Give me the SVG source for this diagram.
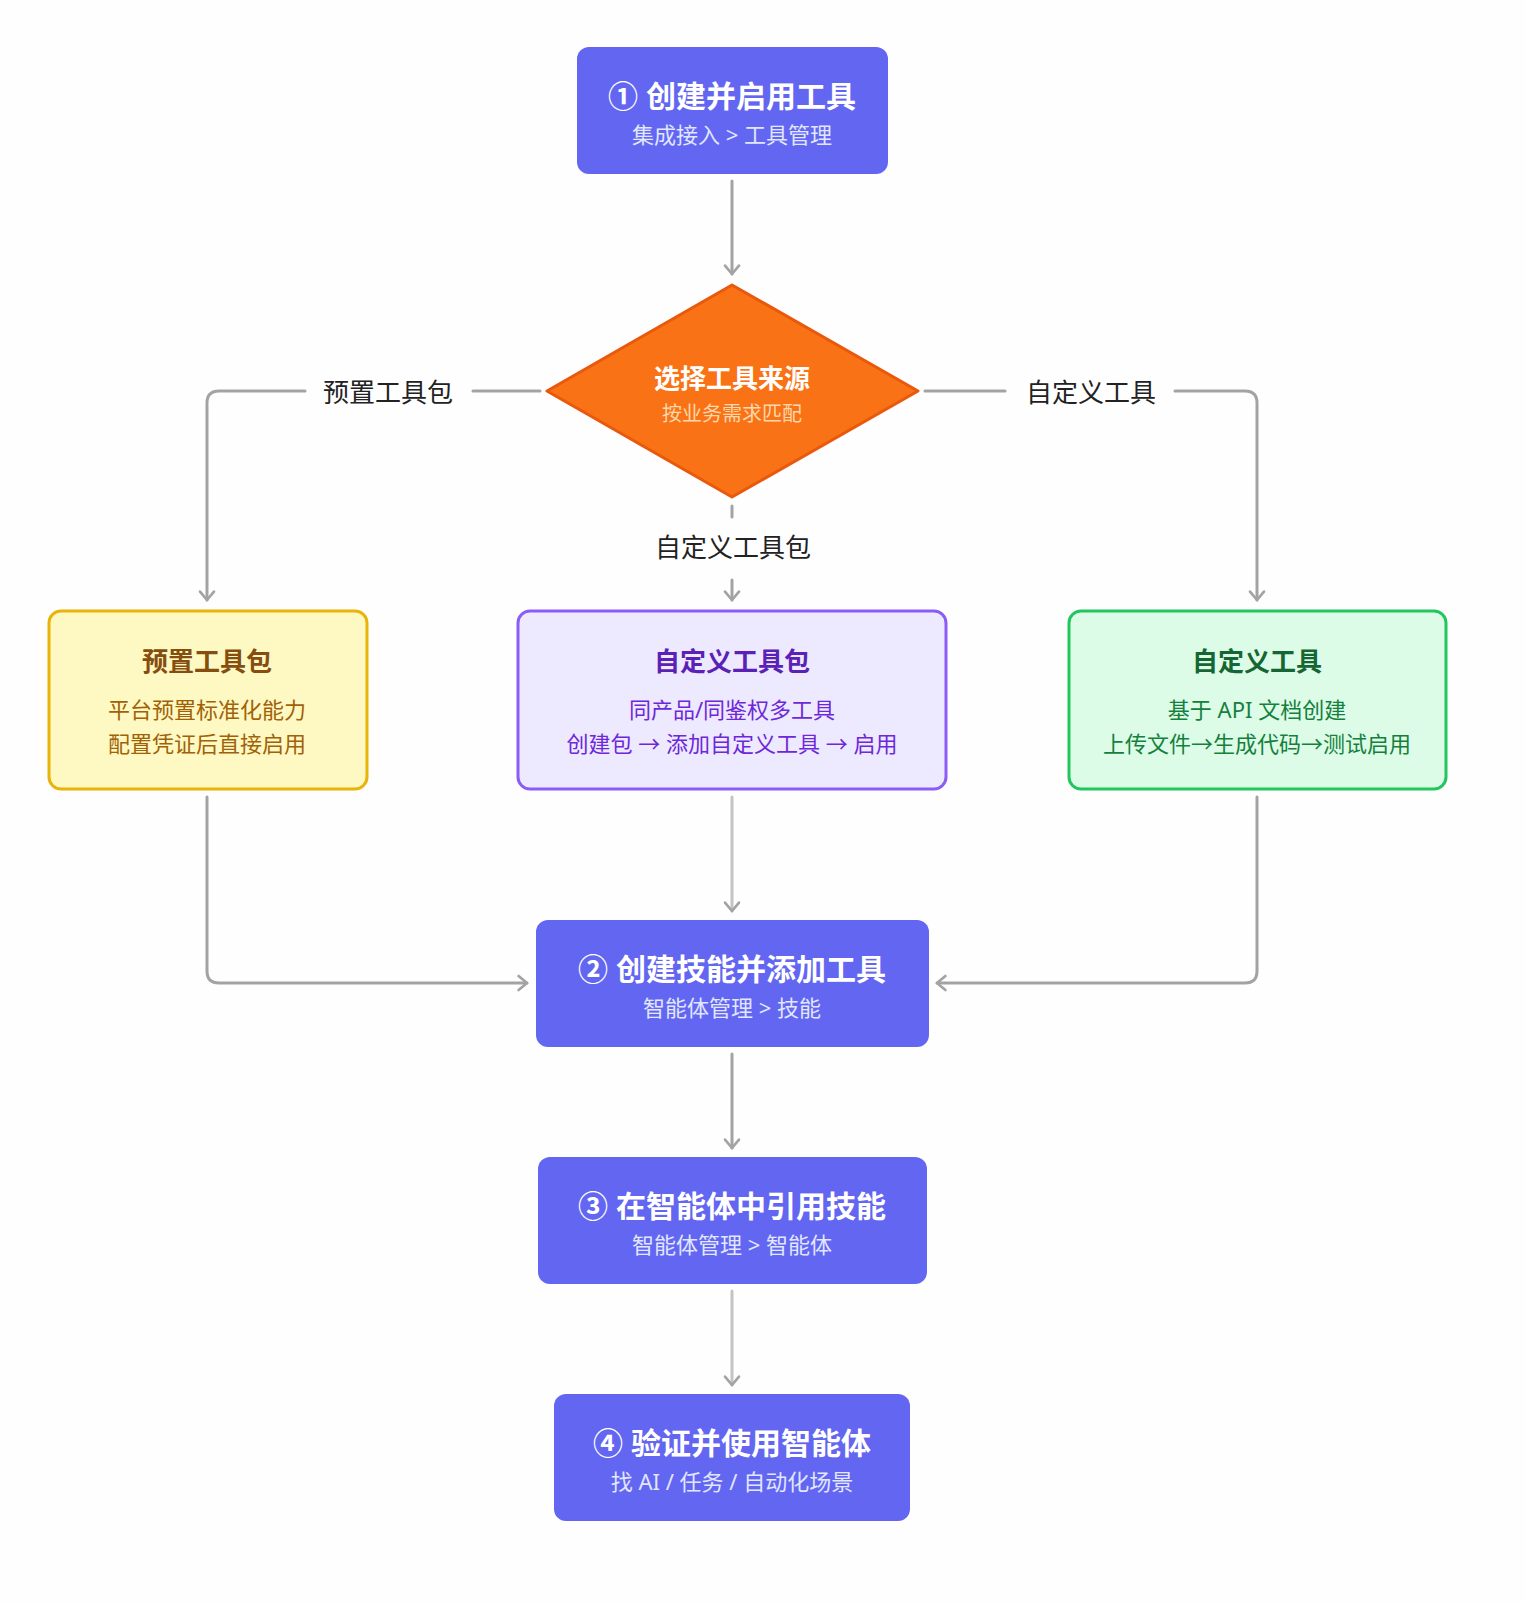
<svg xmlns="http://www.w3.org/2000/svg" width="1526" height="1602" viewBox="0 0 1526 1602">
<style>
text{font-family:"Noto Sans","Noto Sans CJK SC",sans-serif;text-anchor:middle}
.t{font-size:30px;font-weight:700;fill:#fff}
.s{font-size:22px;fill:#e0e7ff}
.step{fill:#6366f1}
.c{fill:none;stroke:#a3a3a3;stroke-width:3;stroke-linecap:round;stroke-linejoin:round;marker-end:url(#a)}
.n{marker-end:none}
.lt{stroke:#c4c4c4}
.lbl{font-size:26px;fill:#222}
.bt{font-size:26px;font-weight:700}
.bl{font-size:22px}
</style>
<defs>
<marker id="a" viewBox="0 0 20 20" refX="17" refY="10" markerWidth="14" markerHeight="14" markerUnits="userSpaceOnUse" orient="auto" overflow="visible">
<path d="M5,0 L17,10 L5,20" fill="none" stroke="#a3a3a3" stroke-width="3.8" stroke-linecap="round" stroke-linejoin="round"/>
</marker>
</defs>
<rect width="1526" height="1602" fill="#fefefe"/>
<g id="connectors">
<path class="c" d="M732,181 V274"/>
<path class="c n" d="M540,391 H473"/>
<path class="c" d="M305,391 H219 Q207,391 207,403 V600"/>
<path class="c n" d="M925,391 H1005"/>
<path class="c" d="M1175,391 H1245 Q1257,391 1257,403 V600"/>
<path class="c n" d="M732,506 V517"/>
<path class="c" d="M732,580 V600"/>
<path class="c" d="M207,797 V971 Q207,983 219,983 H527"/>
<path class="c lt" d="M732,797 V911"/>
<path class="c" d="M1257,797 V971 Q1257,983 1245,983 H937"/>
<path class="c" d="M732,1054 V1148"/>
<path class="c lt" d="M732,1291 V1385"/>
<text class="lbl" x="388" y="402">预置工具包</text>
<text class="lbl" x="1091" y="402">自定义工具</text>
<text class="lbl" x="733" y="557">自定义工具包</text>
</g>
<g id="n1">
<rect class="step" x="577" y="47" width="311" height="127" rx="12"/>
<text class="t" x="732" y="107">① 创建并启用工具</text>
<text class="s" x="732" y="143">集成接入 &gt; 工具管理</text>
</g>
<g id="decision">
<polygon points="732,285 918,391 732,497 547,391" fill="#f97316" stroke="#ea580c" stroke-width="3" stroke-linejoin="round"/>
<text x="732" y="388" style="font-size:26px;font-weight:700;fill:#fff">选择工具来源</text>
<text x="732" y="421" style="font-size:20px;fill:#fed7aa">按业务需求匹配</text>
</g>
<g id="preset">
<rect x="49" y="611" width="318" height="178" rx="12" fill="#fef9c3" stroke="#eab308" stroke-width="3"/>
<text class="bt" x="207" y="671" fill="#854d0e">预置工具包</text>
<text class="bl" x="207" y="718" fill="#a16207">平台预置标准化能力</text>
<text class="bl" x="207" y="752" fill="#a16207">配置凭证后直接启用</text>
</g>
<g id="custompack">
<rect x="518" y="611" width="428" height="178" rx="12" fill="#ede9fe" stroke="#8b5cf6" stroke-width="3"/>
<text class="bt" x="732" y="671" fill="#5b21b6">自定义工具包</text>
<text class="bl" x="732" y="718" fill="#6d28d9">同产品/同鉴权多工具</text>
<text class="bl" x="732" y="752" fill="#6d28d9">创建包 → 添加自定义工具 → 启用</text>
</g>
<g id="customtool">
<rect x="1069" y="611" width="377" height="178" rx="12" fill="#dcfce7" stroke="#22c55e" stroke-width="3"/>
<text class="bt" x="1257" y="671" fill="#166534">自定义工具</text>
<text class="bl" x="1257" y="718" fill="#15803d">基于 API 文档创建</text>
<text class="bl" x="1257" y="752" fill="#15803d">上传文件→生成代码→测试启用</text>
</g>
<g id="n2">
<rect class="step" x="536" y="920" width="393" height="127" rx="12"/>
<text class="t" x="732" y="980">② 创建技能并添加工具</text>
<text class="s" x="732" y="1016">智能体管理 &gt; 技能</text>
</g>
<g id="n3">
<rect class="step" x="538" y="1157" width="389" height="127" rx="12"/>
<text class="t" x="732" y="1217">③ 在智能体中引用技能</text>
<text class="s" x="732" y="1253">智能体管理 &gt; 智能体</text>
</g>
<g id="n4">
<rect class="step" x="554" y="1394" width="356" height="127" rx="12"/>
<text class="t" x="732" y="1454">④ 验证并使用智能体</text>
<text class="s" x="732" y="1490">找 AI / 任务 / 自动化场景</text>
</g>
</svg>
